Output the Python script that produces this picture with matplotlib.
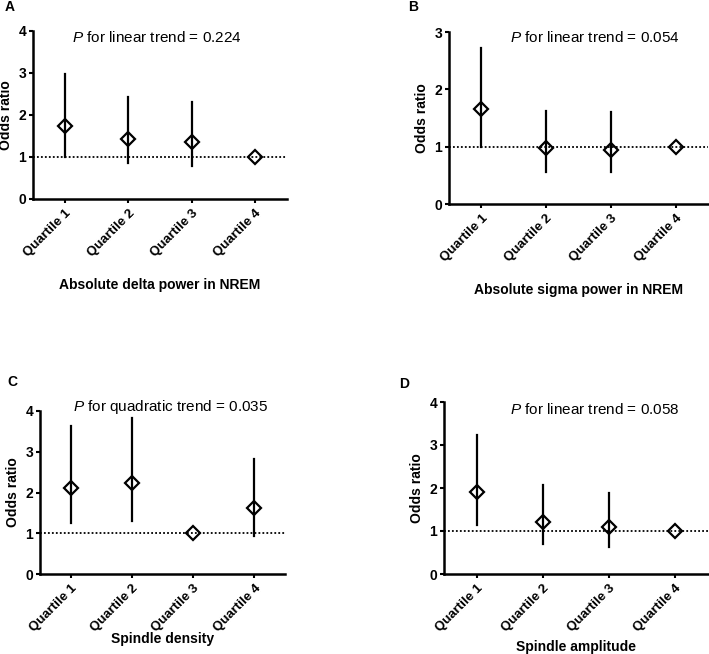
import numpy as np
import matplotlib.pyplot as plt

plt.rcParams['font.family'] = ['Liberation Sans', 'DejaVu Sans']
plt.rcParams['mathtext.fontset'] = 'custom'
plt.rcParams['mathtext.it'] = 'Liberation Sans:italic'
plt.rcParams['mathtext.rm'] = 'Liberation Sans'

quartiles = ['Quartile 1', 'Quartile 2', 'Quartile 3', 'Quartile 4']

# odds ratio, lower and upper CI per panel
or_a = [1.75, 1.44, 1.36, 1.0]
lo_a = [1.01, 0.85, 0.79, 1.0]
hi_a = [2.98, 2.42, 2.32, 1.0]

or_b = [1.65, 0.97, 0.95, 1.0]
lo_b = [1.0, 0.56, 0.56, 1.0]
hi_b = [2.72, 1.62, 1.61, 1.0]

or_c = [2.12, 2.24, 1.0, 1.61]
lo_c = [1.24, 1.30, 1.0, 0.93]
hi_c = [3.64, 3.82, 1.0, 2.81]

or_d = [1.91, 1.21, 1.10, 1.0]
lo_d = [1.14, 0.70, 0.63, 1.0]
hi_d = [3.24, 2.06, 1.89, 1.0]

W, H = 709, 654
fig = plt.figure(figsize=(W / 100, H / 100), dpi=100)


def px_axes(left, right, top, bottom):
    return fig.add_axes([left / W, 1 - bottom / H, (right - left) / W, (bottom - top) / H])


def panel(ax, ors, los, his, ymax, title, title_xy, xlabel, xlabel_y, letter, letter_xy):
    x = np.arange(1, 5)
    ax.axhline(1, color='black', linestyle=(0, (1, 1.2)), lw=1.3, zorder=1)
    for xi, o, lo, hi in zip(x, ors, los, his):
        if hi > lo:
            ax.plot([xi, xi], [lo, hi], color='black', lw=1.6, zorder=2)
    ax.plot(x, ors, 'D', ms=7, mfc='none', mec='black', mew=1.6, ls='none', zorder=3)
    ax.set_xlim(0.5, 4.5)
    ax.set_ylim(0, ymax)
    ax.set_yticks(range(0, ymax + 1))
    ax.set_xticks(x)
    ax.set_xticklabels(quartiles, rotation=45, ha='right', rotation_mode='anchor',
                       fontsize=9.5, fontweight='bold')
    for lab in ax.get_yticklabels():
        lab.set_fontsize(10)
        lab.set_fontweight('bold')
    ax.tick_params(axis='both', direction='out', length=3, width=1.5, pad=2)
    ax.tick_params(axis='x', pad=3)
    for s in ['top', 'right']:
        ax.spines[s].set_visible(False)
    for s in ['left', 'bottom']:
        ax.spines[s].set_linewidth(1.8)
    ax.set_ylabel('Odds ratio', fontsize=10, fontweight='bold', labelpad=4)
    fig.text(title_xy[0] / W, 1 - title_xy[1] / H, r'$P$ for ' + title,
             fontsize=11, ha='center', va='center')
    ax_center = ax.get_position().x0 + ax.get_position().width / 2
    fig.text(ax_center, 1 - xlabel_y / H, xlabel, fontsize=10, fontweight='bold',
             ha='center', va='center')
    fig.text(letter_xy[0] / W, 1 - letter_xy[1] / H, letter, fontsize=10,
             fontweight='bold', ha='center', va='center')


ax_a = px_axes(33, 287, 31, 199)
panel(ax_a, or_a, lo_a, hi_a, 4, 'linear trend = 0.224', (157, 38),
      'Absolute delta power in NREM', 285, 'A', (10, 7))

ax_b = px_axes(449, 708, 32, 204)
panel(ax_b, or_b, lo_b, hi_b, 3, 'linear trend = 0.054', (595, 38),
      'Absolute sigma power in NREM', 290, 'B', (413, 7))

ax_c = px_axes(40, 285, 411, 574)
panel(ax_c, or_c, lo_c, hi_c, 4, 'quadratic trend = 0.035', (171, 407),
      'Spindle density', 639, 'C', (12, 382))

ax_d = px_axes(444, 708, 402, 574)
panel(ax_d, or_d, lo_d, hi_d, 4, 'linear trend = 0.058', (595, 410),
      'Spindle amplitude', 647, 'D', (404, 384))

fig.savefig('out.png', dpi=100)
